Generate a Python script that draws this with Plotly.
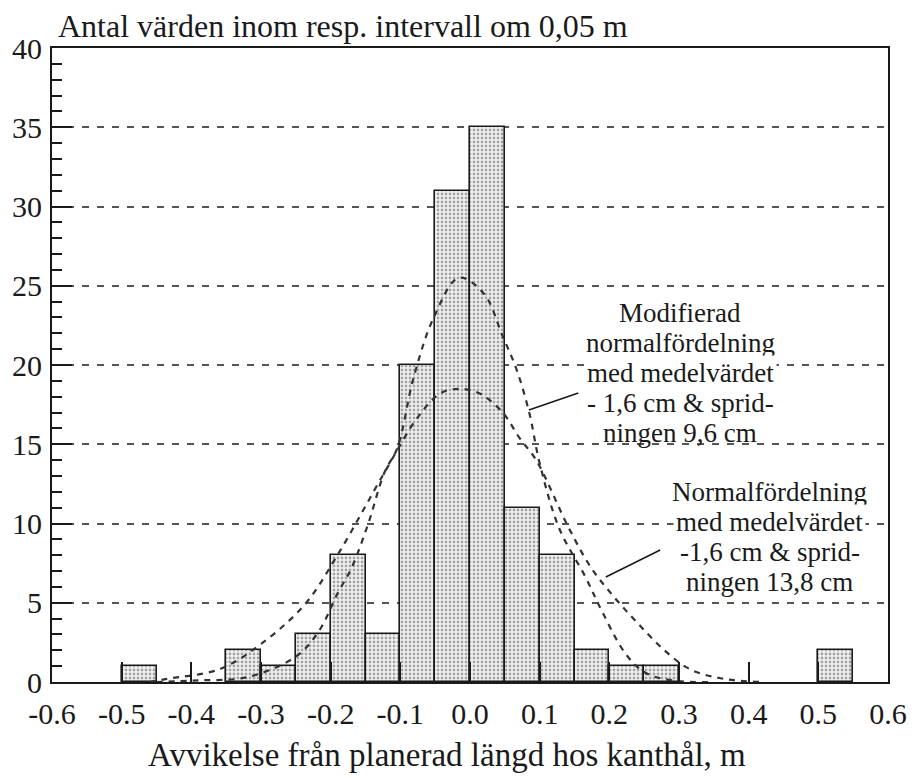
import plotly.graph_objects as go

# ---------------- data ----------------
bin_width = 0.05
bin_left = [-0.50, -0.35, -0.30, -0.25, -0.20, -0.15, -0.10, -0.05, 0.00,
            0.05, 0.10, 0.15, 0.20, 0.25, 0.50]
counts = [1, 2, 1, 3, 8, 3, 20, 31, 35, 11, 8, 2, 1, 1, 2]

# "Modifierad normalfördelning" (narrow, spridning 9,6 cm)
mod_x = [-0.45, -0.39, -0.32, -0.25, -0.217, -0.19, -0.17, -0.146, -0.123, -0.104,
         -0.081, -0.052, -0.016, 0.02, 0.047, 0.067, 0.085, 0.10, 0.128, 0.166,
         0.189, 0.223, 0.251, 0.29, 0.35]
mod_y = [0.0, 0.1, 0.3, 1.6, 3.2, 5.6, 7.2, 10.0, 13.2, 14.8,
         19.2, 23.0, 25.5, 24.5, 21.8, 19.7, 17.0, 13.8, 9.7, 6.6,
         4.5, 1.8, 0.6, 0.1, 0.0]

# "Normalfördelning" (wide, spridning 13,8 cm)
norm_x = [-0.46, -0.435, -0.36, -0.30, -0.237, -0.189, -0.123, -0.075, -0.043, -0.016,
          0.014, 0.047, 0.071, 0.095, 0.142, 0.174, 0.208, 0.241, 0.279, 0.316,
          0.364, 0.42]
norm_y = [0.0, 0.2, 0.8, 2.4, 4.9, 8.1, 13.2, 16.7, 18.2, 18.5,
          18.2, 17.0, 15.4, 14.0, 9.7, 7.2, 5.3, 3.7, 2.0, 0.8,
          0.2, 0.0]

x_tickvals = [-0.6, -0.5, -0.4, -0.3, -0.2, -0.1, 0.0, 0.1, 0.2, 0.3, 0.4, 0.5, 0.6]
x_ticktext = ["-0.6", "-0.5", "-0.4", "-0.3", "-0.2", "-0.1", "0.0",
              "0.1", "0.2", "0.3", "0.4", "0.5", "0.6"]
x_half_ticks = [-0.55, -0.45, -0.35, -0.25, -0.15, -0.05, 0.05, 0.15, 0.25, 0.35, 0.45, 0.55]
y_tickvals = [0, 5, 10, 15, 20, 25, 30, 35, 40]

title_text = "Antal värden inom resp. intervall om 0,05 m"
xtitle_text = "Avvikelse från planerad längd hos kanthål, m"
mod_lines = ["Modifierad", "normalfördelning", "med medelvärdet",
             "- 1,6 cm & sprid-", "ningen 9,6 cm"]
norm_lines = ["Normalfördelning", "med medelvärdet",
              "-1,6 cm & sprid-", "ningen 13,8 cm"]

# ---------------- figure ----------------
FONT = "'Liberation Serif', 'Times New Roman', 'DejaVu Serif', serif"
INK = "#1a1a1a"

fig = go.Figure()

fig.add_trace(go.Bar(
    x=bin_left, y=counts, width=bin_width, offset=0,
    marker=dict(
        color="white",
        line=dict(color=INK, width=1.6),
        pattern=dict(shape=".", fgcolor="#555555", bgcolor="#f2f2f2",
                     size=4, solidity=0.4),
    ),
    showlegend=False, hoverinfo="skip",
))

for cx, cy in ((mod_x, mod_y), (norm_x, norm_y)):
    fig.add_trace(go.Scatter(
        x=cx, y=cy, mode="lines", line_shape="spline",
        line=dict(color="#333333", width=2.2, dash="6px,6px"),
        showlegend=False, hoverinfo="skip",
    ))

axis_common = dict(range=[-0.6, 0.6], fixedrange=True)

fig.update_layout(
    width=919, height=778,
    margin=dict(l=48, r=26, t=48, b=96),
    paper_bgcolor="white", plot_bgcolor="white",
    font=dict(family=FONT, color=INK, size=30),
    bargap=0,
    xaxis=dict(
        **axis_common,
        tickmode="array", tickvals=x_tickvals, ticktext=x_ticktext,
        ticks="inside", ticklen=20, tickwidth=1.6, tickcolor=INK,
        showline=True, linecolor=INK, linewidth=2, mirror=True,
        showgrid=False, zeroline=False,
        tickfont=dict(size=30, family=FONT, color=INK),
        ticklabelstandoff=4,
    ),
    xaxis2=dict(
        **axis_common, overlaying="x", anchor="y", side="bottom",
        tickmode="array", tickvals=x_half_ticks,
        ticks="outside", ticklen=12, tickwidth=1.6, tickcolor=INK,
        showticklabels=False, showline=False, showgrid=False, zeroline=False,
    ),
    xaxis3=dict(
        **axis_common, overlaying="x", anchor="y", side="top",
        tickmode="array", tickvals=x_tickvals,
        ticks="inside", ticklen=20, tickwidth=1.6, tickcolor=INK,
        minor=dict(tickvals=x_half_ticks, ticks="inside", ticklen=10,
                   tickwidth=1.6, tickcolor=INK),
        showticklabels=False, showline=False, showgrid=False, zeroline=False,
    ),
    yaxis=dict(
        range=[0, 40], fixedrange=True,
        tickmode="array", tickvals=y_tickvals,
        ticks="inside", ticklen=20, tickwidth=1.6, tickcolor=INK,
        minor=dict(dtick=1, ticks="inside", ticklen=10, tickwidth=1.6,
                   tickcolor=INK, showgrid=False),
        showline=True, linecolor=INK, linewidth=2, mirror=True,
        showgrid=True, gridcolor="#555555", gridwidth=1.6, griddash="7px,8px",
        zeroline=False,
        tickfont=dict(size=30, family=FONT, color=INK),
        ticklabelstandoff=2,
    ),
    yaxis2=dict(
        range=[0, 40], fixedrange=True, overlaying="y", anchor="x", side="right",
        tickmode="array", tickvals=y_tickvals,
        ticks="inside", ticklen=20, tickwidth=1.6, tickcolor=INK,
        minor=dict(dtick=1, ticks="inside", ticklen=10, tickwidth=1.6,
                   tickcolor=INK, showgrid=False),
        showticklabels=False, showline=False, showgrid=False, zeroline=False,
    ),
)

annotations = []
# title above the plot
annotations.append(dict(
    text=title_text, xref="paper", yref="paper", x=0.005, y=1.0,
    xanchor="left", yanchor="bottom", yshift=2, showarrow=False,
    font=dict(size=32, family=FONT, color=INK),
))
# x-axis title
annotations.append(dict(
    text=xtitle_text, xref="paper", yref="paper", x=0.472, y=0.0,
    xanchor="center", yanchor="top", yshift=-53, showarrow=False,
    font=dict(size=33, family=FONT, color=INK),
))

# curve labels, one annotation per line (line spacing as in reference)
mod_center_x = 0.302       # data x of the block centre
mod_top_y = 23.3           # data y of the first line centre
for i, t in enumerate(mod_lines):
    annotations.append(dict(
        text=t, x=mod_center_x, y=mod_top_y - i * 1.9,
        xref="x", yref="y", showarrow=False, xanchor="center", yanchor="middle",
        font=dict(size=27, family=FONT, color=INK),
        bgcolor="white" if t == "med medelvärdet" else "rgba(0,0,0,0)",
        borderpad=2,
    ))

norm_center_x = 0.43
norm_top_y = 12.0
for i, t in enumerate(norm_lines):
    annotations.append(dict(
        text=t, x=norm_center_x, y=norm_top_y - i * 1.89,
        xref="x", yref="y", showarrow=False, xanchor="center", yanchor="middle",
        font=dict(size=27, family=FONT, color=INK),
        bgcolor="white" if t == "med medelvärdet" else "rgba(0,0,0,0)",
        borderpad=2,
    ))

fig.update_layout(annotations=annotations)

# leader lines from the labels to the curves
leaders = [((0.1555, 18.23), (0.0845, 17.16)),
           ((0.273, 8.33), (0.195, 6.62))]
for (x0, y0), (x1, y1) in leaders:
    fig.add_shape(type="line", x0=x0, y0=y0, x1=x1, y1=y1, xref="x", yref="y",
                  line=dict(color=INK, width=1.6))

fig.write_html("out.html")
